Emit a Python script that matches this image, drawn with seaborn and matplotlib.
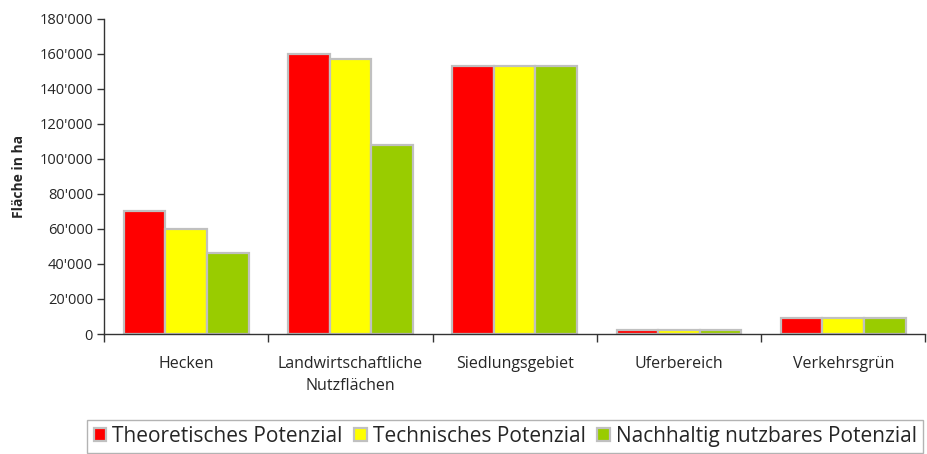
import matplotlib
matplotlib.use("Agg")
import matplotlib.pyplot as plt
import matplotlib.ticker as mticker
import seaborn as sns
import pandas as pd
import numpy as np

categories = ["Hecken", "Landwirtschaftliche\nNutzflächen", "Siedlungsgebiet", "Uferbereich", "Verkehrsgrün"]
series_names = ["Theoretisches Potenzial", "Technisches Potenzial", "Nachhaltig nutzbares Potenzial"]
theoretisch = [70000, 160000, 153000, 2500, 9000]
technisch = [60000, 157000, 153000, 2500, 9000]
nachhaltig = [46000, 108000, 153000, 2500, 9000]
colors = ["#ff0000", "#ffff00", "#99cc00"]
yticks = [0, 20000, 40000, 60000, 80000, 100000, 120000, 140000, 160000, 180000]

rows = []
for name, vals in zip(series_names, [theoretisch, technisch, nachhaltig]):
    for c, v in zip(categories, vals):
        rows.append({"Kategorie": c, "Serie": name, "Wert": v})
df = pd.DataFrame(rows)

sns.set_style("white")
plt.rcParams['font.family'] = ['Open Sans', 'DejaVu Sans']

fig = plt.figure(figsize=(9.27, 4.54), dpi=100)
ax = fig.add_axes([0.1122, 0.2643, 0.886, 0.694])

sns.barplot(data=df, x="Kategorie", y="Wert", hue="Serie", palette=colors, saturation=1,
            order=categories, hue_order=series_names, width=0.76, gap=0,
            edgecolor="#c0c0c0", linewidth=1.6, ax=ax, legend=True)

ax.set_xlim(-0.5, len(categories) - 0.5)
ax.set_ylim(0, 180000)
ax.set_yticks(yticks)
ax.yaxis.set_major_formatter(mticker.FuncFormatter(lambda v, p: f"{int(v):,}".replace(",", "'")))
ax.tick_params(axis="y", direction="out", length=5, width=1, color="#333333", labelsize=10.5, pad=3, left=True)
ax.tick_params(axis="x", which="major", length=0, labelsize=11.5, pad=16)
ax.set_xticks(np.arange(-0.5, len(categories)), minor=True)
ax.tick_params(axis="x", which="minor", direction="out", length=6, width=1, color="#333333", bottom=True)
for lab in ax.get_xticklabels():
    lab.set_linespacing(1.5)

for s in ["top", "right"]:
    ax.spines[s].set_visible(False)
for s in ["left", "bottom"]:
    ax.spines[s].set_color("#333333")
    ax.spines[s].set_linewidth(1)

ax.set_xlabel("")
ax.set_ylabel("Fläche in ha", fontsize=10, fontweight="bold", labelpad=10)

ax.legend_.remove()
handles, labels = ax.get_legend_handles_labels()
leg = fig.legend(handles, labels, loc="lower center", bbox_to_anchor=(0.545, -0.012), ncol=3,
                 frameon=True, fancybox=False, fontsize=15, handlelength=0.6, handleheight=0.6,
                 handletextpad=0.3, columnspacing=0.55, borderpad=0.3, borderaxespad=0.3, edgecolor="#a0a0a0")
leg.get_frame().set_linewidth(1)

fig.savefig("out.png", dpi=100)
